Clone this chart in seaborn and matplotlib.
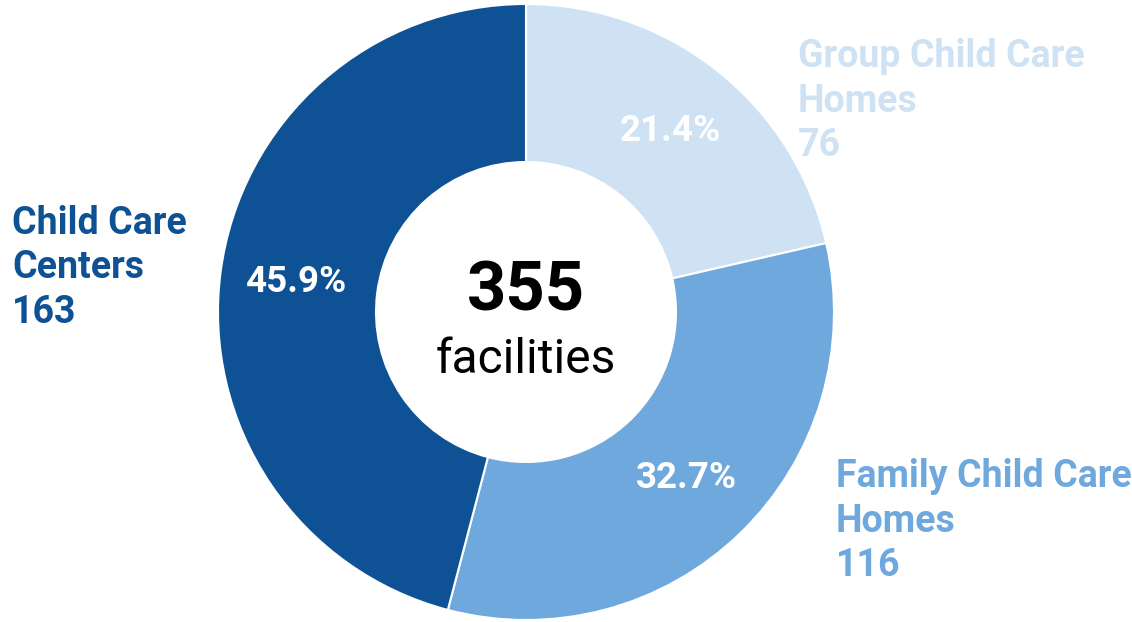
import matplotlib
matplotlib.use("Agg")
import matplotlib.pyplot as plt
import seaborn as sns

categories = ["Group Child Care\nHomes", "Family Child Care\nHomes", "Child Care\nCenters"]
counts = [76, 116, 163]
colors = ["#cfe2f3", "#6fa8dc", "#0e5295"]
total_label = "355"
total_sub = "facilities"

sns.set_theme(style="white")
plt.rcParams["font.family"] = ["Roboto", "DejaVu Sans"]

W, H = 1132, 622
fig = plt.figure(figsize=(W / 100, H / 100), dpi=100)
ax = fig.add_axes([0, 0, 1, 1])
ax.set_xlim(0, W)
ax.set_ylim(0, H)
ax.set_aspect("equal")
ax.axis("off")

cx, cy, R = 526, 310, 308
wedges, texts, autotexts = ax.pie(
    counts, colors=colors, startangle=90, counterclock=False,
    center=(cx, cy), radius=R, autopct="%.1f%%", pctdistance=0.75,
    wedgeprops=dict(width=R - 150, edgecolor="white", linewidth=1.5),
    textprops=dict(color="white", fontsize=26.5, fontweight="bold"),
)
ax.set_xlim(0, W)
ax.set_ylim(0, H)

label_pos = [(798, 101), (836, 521), (12, 268)]
for cat, n, col, (x, y) in zip(categories, counts, colors, label_pos):
    ax.text(x, H - y, f"{cat}\n{n}", color=col, fontsize=27, fontweight="bold",
            ha="left", va="center", linespacing=1.27)

ax.text(cx, H - 292, total_label, fontsize=49.5, fontweight="bold", color="black",
        ha="center", va="center")
ax.text(cx, H - 360, total_sub, fontsize=34.5, color="black", ha="center", va="center")

fig.savefig("out.png", dpi=100, facecolor="white")
